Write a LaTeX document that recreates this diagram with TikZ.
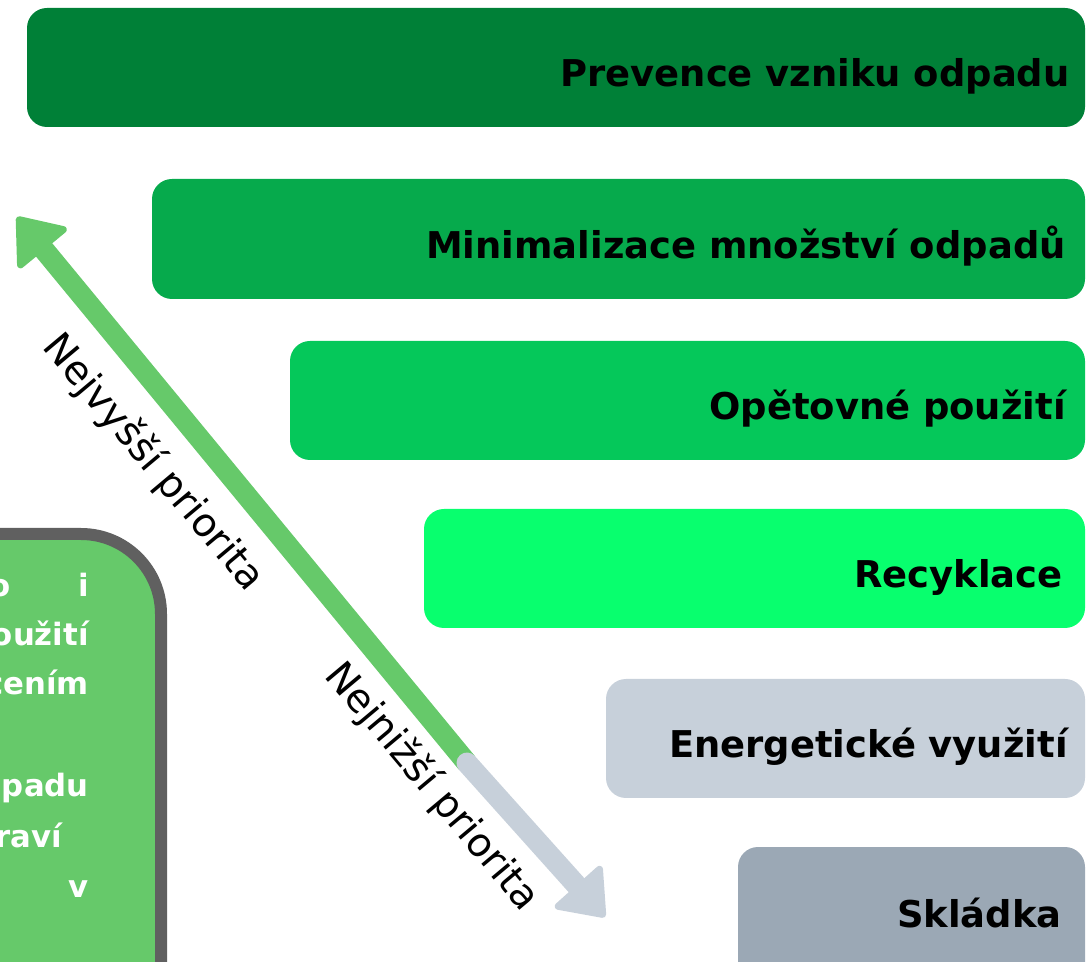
\documentclass[tikz,border=0pt]{standalone}
\usepackage{fontspec}
\setmainfont{DejaVu Sans}
\usetikzlibrary{arrows.meta}
\definecolor{prevgreen}{RGB}{0,128,55}
\definecolor{mingreen}{RGB}{6,170,76}
\definecolor{reusegreen}{RGB}{5,200,90}
\definecolor{recgreen}{RGB}{8,255,110}
\definecolor{energygrey}{RGB}{199,208,218}
\definecolor{landgrey}{RGB}{155,168,181}
\definecolor{arrowgreen}{RGB}{102,201,106}
\definecolor{boxborder}{RGB}{96,96,96}
\tikzset{
  bar/.style={rounded corners=0.4cm},
  barlabel/.style={anchor=base east,inner sep=0pt,font=\bfseries\fontsize{21}{25}\selectfont},
  boxtext/.style={anchor=base east,inner sep=0pt,text=white,font=\bfseries\fontsize{17.5}{21}\selectfont},
  prio/.style={rotate=-50,inner sep=0pt,font=\fontsize{22.5}{27}\selectfont},
  tipshape/.tip={Triangle[length=0.9cm,width=1.36cm,line width=0.14cm,round]}
}
\begin{document}
\begin{tikzpicture}[x=0.02cm,y=-0.02cm]
\useasboundingbox (0,0) rectangle (1086,962);
\clip (0,0) rectangle (1086,962);

% hierarchy bars
\fill[bar,prevgreen] (27,8) rectangle (1085,127);
\fill[bar,mingreen] (152,179) rectangle (1085,299);
\fill[bar,reusegreen] (290,341) rectangle (1085,460);
\fill[bar,recgreen] (424,509) rectangle (1085,628);
\fill[bar,energygrey] (606,679) rectangle (1085,798);
\fill[bar,landgrey] (738,847) rectangle (1085,1000);
\node[barlabel] (prev) at (1070,87) {Prevence vzniku odpadu};
\node[barlabel] (mini) at (1066,259) {Minimalizace množství odpadů};
\node[barlabel] (reuse) at (1066,420) {Opětovné použití};
\node[barlabel] (recy) at (1063,588) {Recyklace};
\node[barlabel] (energy) at (1068,758) {Energetické využití};
\node[barlabel] (land) at (1062,928) {Skládka};

% side box
\draw[line width=0.24cm,boxborder,fill=arrowgreen,rounded corners=1.6cm] (-200,534) rectangle (161,1200);
\node[boxtext] (l1a) at (11,597) {o};
\node[boxtext] (l1b) at (89,597) {i};
\node[boxtext] (l2) at (89,646) {oužití};
\node[boxtext] (l3) at (89,695) {cením};
\node[boxtext] (l5) at (89,797) {padu};
\node[boxtext] (l6) at (62,847) {raví};
\node[boxtext] (l7) at (89,897) {v};

% priority arrow
\coordinate (top) at (17,217);
\coordinate (mid) at (467,763);
\coordinate (bot) at (605,917);
\draw[line width=0.42cm,arrowgreen,-{tipshape}] (mid) -- (top);
\draw[line width=0.42cm,energygrey,line cap=round,-{tipshape}] (mid) -- (bot);
\node[prio] (high) at (153,463) {Nejvyšší priorita};
\node[prio] (low) at (432,787) {Nejnižší priorita};
\end{tikzpicture}
\end{document}
